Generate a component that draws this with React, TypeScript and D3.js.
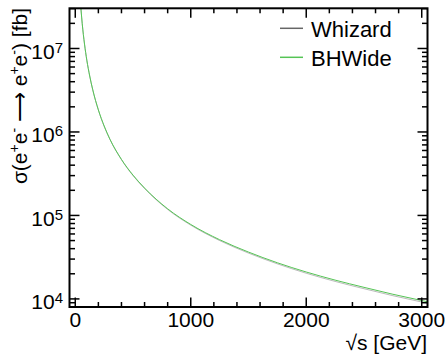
import React from "react";
import * as d3 from "d3";

// sqrt(s) sampling points [GeV]
const energies = [40, 50, 60, 70, 80, 100, 125, 150, 200, 250, 300, 400, 500, 600, 800, 1000, 1250, 1500, 1750, 2000, 2250, 2500, 2750, 3000, 3050];
// Bhabha cross sections [fb]
const whizard = [4.5e7, 2.88e7, 2.0e7, 1.47e7, 1.13e7, 7.25e6, 4.68e6, 3.25e6, 1.83e6, 1.17e6, 8.15e5, 4.65e5, 3.0e5, 2.1e5, 1.18e5, 7.65e4, 5.0e4, 3.54e4, 2.63e4, 2.03e4, 1.62e4, 1.325e4, 1.093e4, 9180, 8870];
const bhwide = [4.5e7, 2.88e7, 2.0e7, 1.47e7, 1.13e7, 7.25e6, 4.68e6, 3.26e6, 1.84e6, 1.18e6, 8.2e5, 4.69e5, 3.04e5, 2.13e5, 1.2e5, 7.8e4, 5.12e4, 3.64e4, 2.71e4, 2.1e4, 1.68e4, 1.376e4, 1.137e4, 9560, 9245];

const seriesNames = ["Whizard", "BHWide"];
const seriesColors = ["#666666", "#55c455"];

const xMajor = [0, 1000, 2000, 3000];
const yExponents = [4, 5, 6, 7];

const W = 447;
const H = 356;
const frame = { left: 69.5, right: 427.5, top: 8.3, bottom: 307 };
const FONT = "'Liberation Sans', Arial, Helvetica, sans-serif";

export default function App() {
  const x = d3.scaleLinear().domain([-50, 3050]).range([frame.left, frame.right]);
  const y = d3.scaleLog().domain([8000, 3.03e7]).range([frame.bottom, frame.top]);

  const xMinor = d3.range(0, 3001, 200).filter((v) => !xMajor.includes(v));
  const yMinor: number[] = [];
  for (let e = 3; e <= 7; e++) {
    for (let m = 2; m <= 9; m++) {
      const v = m * Math.pow(10, e);
      const [lo, hi] = y.domain();
      if (v > lo && v < hi) yMinor.push(v);
    }
  }

  const line = d3
    .line<number>()
    .x((_, i) => x(energies[i]))
    .y((d) => y(d))
    .curve(d3.curveMonotoneX);

  const series = [whizard, bhwide];

  return (
    <svg
      width={W}
      height={H}
      style={{ position: "absolute", left: 0, top: 0, background: "#fff" }}
      fontFamily={FONT}
    >
      <defs>
        <clipPath id="plotArea">
          <rect x={frame.left} y={frame.top} width={frame.right - frame.left} height={frame.bottom - frame.top} />
        </clipPath>
      </defs>

      {/* curves */}
      <g clipPath="url(#plotArea)" fill="none">
        {series.map((vals, i) => (
          <path
            key={seriesNames[i]}
            d={line(vals) ?? ""}
            stroke={seriesColors[i]}
            strokeWidth={1}
            strokeOpacity={i === 0 ? 0.45 : 1}
          />
        ))}
      </g>

      {/* ticks on all four sides */}
      <g stroke="#000" strokeWidth={1.5}>
        {xMajor.map((v) => (
          <g key={"xM" + v}>
            <line x1={x(v)} x2={x(v)} y1={frame.bottom} y2={frame.bottom - 9.5} />
            <line x1={x(v)} x2={x(v)} y1={frame.top} y2={frame.top + 9.5} />
          </g>
        ))}
        {xMinor.map((v) => (
          <g key={"xm" + v}>
            <line x1={x(v)} x2={x(v)} y1={frame.bottom} y2={frame.bottom - 5} />
            <line x1={x(v)} x2={x(v)} y1={frame.top} y2={frame.top + 5} />
          </g>
        ))}
        {yExponents.map((e) => {
          const yy = y(Math.pow(10, e));
          return (
            <g key={"yM" + e}>
              <line x1={frame.left} x2={frame.left + 10} y1={yy} y2={yy} />
              <line x1={frame.right} x2={frame.right - 10} y1={yy} y2={yy} />
            </g>
          );
        })}
        {yMinor.map((v) => (
          <g key={"ym" + v}>
            <line x1={frame.left} x2={frame.left + 5.5} y1={y(v)} y2={y(v)} />
            <line x1={frame.right} x2={frame.right - 5.5} y1={y(v)} y2={y(v)} />
          </g>
        ))}
      </g>

      {/* frame */}
      <rect
        x={frame.left}
        y={frame.top}
        width={frame.right - frame.left}
        height={frame.bottom - frame.top}
        fill="none"
        stroke="#000"
        strokeWidth={2}
      />

      {/* x tick labels */}
      <g fontSize={21} textAnchor="middle" fill="#000">
        {xMajor.map((v) => (
          <text key={"xl" + v} x={x(v)} y={327}>
            {v}
          </text>
        ))}
      </g>

      {/* y tick labels */}
      <g fill="#000" textAnchor="end">
        {yExponents.map((e) => {
          const yy = y(Math.pow(10, e));
          return (
            <text key={"yl" + e} x={63} y={yy + 10.5} fontSize={21}>
              10
              <tspan fontSize={15} dy={-6}>
                {e}
              </tspan>
            </text>
          );
        })}
      </g>

      {/* axis titles */}
      <text x={427} y={350} fontSize={21} textAnchor="end" fill="#000">
        √s [GeV]
      </text>
      <text transform="translate(27,8) rotate(-90)" fontSize={21} textAnchor="end" fill="#000">
        σ(e
        <tspan fontSize={14} dy={-8}>+</tspan>
        <tspan dy={8}>e</tspan>
        <tspan fontSize={14} dy={-8}>-</tspan>
        <tspan dy={8}> ⟶ e</tspan>
        <tspan fontSize={14} dy={-8}>+</tspan>
        <tspan dy={8}>e</tspan>
        <tspan fontSize={14} dy={-8}>-</tspan>
        <tspan dy={8}>) [fb]</tspan>
      </text>

      {/* legend */}
      <g>
        {seriesNames.map((name, i) => {
          const ly = 28.3 + i * 29;
          return (
            <g key={"lg" + name}>
              <line x1={280} x2={303} y1={ly} y2={ly} stroke={seriesColors[i]} strokeWidth={1.5} />
              <text x={311} y={ly + 9} fontSize={22} fill="#000">
                {name}
              </text>
            </g>
          );
        })}
      </g>
    </svg>
  );
}
